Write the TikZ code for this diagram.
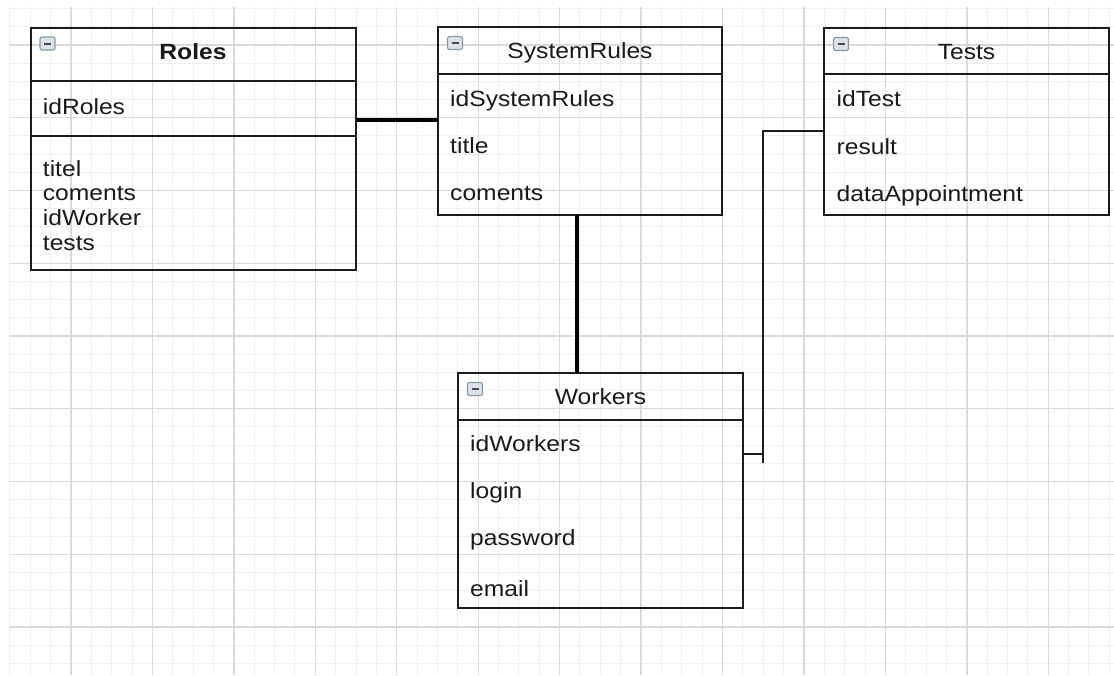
\documentclass[tikz,border=0pt]{standalone}
\usepackage{fontspec}
\setmainfont{Liberation Sans}[FakeStretch=1.12]
\definecolor{boxc}{HTML}{1C1C1C}
\definecolor{txtc}{HTML}{1A1A1A}
\definecolor{majorc}{HTML}{DADADA}
\definecolor{minorc}{HTML}{EFEFEF}
\definecolor{iconfill}{HTML}{DCE2EA}
\definecolor{iconline}{HTML}{8C96A3}
\newcommand\fldfont{\fontsize{22}{26}\selectfont}
\newcommand\collapseicon[2]{%
  \draw[iconbox] (#1,#2) rectangle ++(15,13);
  \draw[iconminus] (#1+4,#2+6.5) -- ++(7,0);}
\begin{document}
\begin{tikzpicture}[x=1pt,y=-1pt,
  box/.style={draw=boxc, line width=1.7pt, rectangle, inner sep=0pt, outer sep=0pt, anchor=north west},
  fld/.style={anchor=base west, inner sep=0pt, text=txtc, font=\fldfont},
  ttl/.style={anchor=base, inner sep=0pt, text=txtc, font=\fldfont},
  sepline/.style={draw=boxc, line width=1.7pt},
  conn/.style={draw=black, line width=3.2pt},
  thinconn/.style={draw=boxc, line width=1.7pt},
  minorgrid/.style={draw=minorc, line width=1pt},
  majorgrid/.style={draw=majorc, line width=1.4pt},
  iconbox/.style={draw=iconline, fill=iconfill, line width=1.1pt, rounded corners=2pt},
  iconminus/.style={draw=boxc!80, line width=2pt}]
\useasboundingbox (0,0) rectangle (1114,675);
\fill[white] (0,0) rectangle (1114,675);
% grid
\begin{scope}
\clip (9,7) rectangle (1114,675);
\foreach \i in {0,...,54} {\pgfmathsetmacro\xx{9.9+\i*20.36}\draw[minorgrid] (\xx,7) -- (\xx,675);}
\foreach \i in {0,...,36} {\pgfmathsetmacro\yy{8.6+\i*18.19}\draw[minorgrid] (9,\yy) -- (1114,\yy);}
\foreach \i in {0,...,12} {\pgfmathsetmacro\xx{71+\i*81.44}\draw[majorgrid] (\xx,7) -- (\xx,675);}
\foreach \i in {0,...,8} {\pgfmathsetmacro\yy{45+\i*72.75}\draw[majorgrid] (9,\yy) -- (1114,\yy);}
\end{scope}
% boxes
\node[box, minimum width=325.3pt, minimum height=242.3pt] (roles) at (30.7,27.7) {};
\node[box, minimum width=284pt, minimum height=187.7pt] (srules) at (438,27.3) {};
\node[box, minimum width=285pt, minimum height=187.3pt] (tests) at (824,27.7) {};
\node[box, minimum width=285pt, minimum height=235pt] (workers) at (458,373) {};
% separators
\draw[sepline] ([yshift=-53.3pt]roles.north west) -- ([yshift=-53.3pt]roles.north east);
\draw[sepline] ([yshift=-108.3pt]roles.north west) -- ([yshift=-108.3pt]roles.north east);
\draw[sepline] ([yshift=-46.7pt]srules.north west) -- ([yshift=-46.7pt]srules.north east);
\draw[sepline] ([yshift=-46.3pt]tests.north west) -- ([yshift=-46.3pt]tests.north east);
\draw[sepline] ([yshift=-47pt]workers.north west) -- ([yshift=-47pt]workers.north east);
% icons
\collapseicon{40}{37}
\collapseicon{447.5}{36.5}
\collapseicon{833.5}{37.5}
\collapseicon{467.5}{382.5}
% titles
\node[ttl, font=\fldfont\bfseries] (rolesT) at (193,59.3) {Roles};
\node[ttl] (srulesT) at (580,58.3) {SystemRules};
\node[ttl] (testsT) at (966.5,59.3) {Tests};
\node[ttl] (workersT) at (600.5,404.3) {Workers};
% fields
\node[fld] (r1) at (42.7,114) {idRoles};
\node[fld] (r2) at (42.7,176) {titel};
\node[fld] (r3) at (42.7,200.5) {coments};
\node[fld] (r4) at (42.7,225.5) {idWorker};
\node[fld] (r5) at (42.7,250.5) {tests};
\node[fld] (s1) at (450,106.7) {idSystemRules};
\node[fld] (s2) at (450,153.3) {title};
\node[fld] (s3) at (450,200) {coments};
\node[fld] (t1) at (836.5,106.7) {idTest};
\node[fld] (t2) at (836.5,154) {result};
\node[fld] (t3) at (836.5,201.7) {dataAppointment};
\node[fld] (w1) at (470,451) {idWorkers};
\node[fld] (w2) at (470,498.3) {login};
\node[fld] (w3) at (470,545.7) {password};
\node[fld] (w4) at (470,596.7) {email};
% connectors
\draw[conn] ([yshift=-92.3pt]roles.north east) -- ([yshift=-92.7pt]srules.north west);
\draw[conn] ([xshift=-3pt]srules.south) -- ([xshift=-3pt]srules.south |- workers.north);
\coordinate (bend) at (763,454);
\draw[thinconn] ([yshift=-103.3pt]tests.north west) -| (bend) -- (workers.east |- bend);
\draw[thinconn] (bend) -- ++(0,9);
\end{tikzpicture}
\end{document}
